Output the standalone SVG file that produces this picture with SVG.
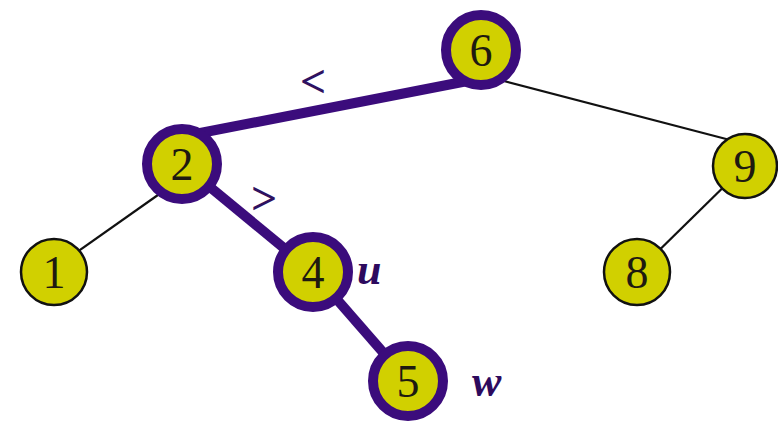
<svg xmlns="http://www.w3.org/2000/svg" width="778" height="427" viewBox="0 0 778 427">
  <style>
    .thin { stroke: #111; stroke-width: 2.2; fill: none; }
    .thick { stroke: #3b0c7c; stroke-width: 10; fill: none; stroke-linecap: butt; }
    .plain { fill: #d1d000; stroke: #111; stroke-width: 2.5; }
    .path { fill: #d1d000; stroke: #3b0c7c; stroke-width: 10; }
    .num { font-family: "Liberation Serif", "Times New Roman", serif; font-size: 46px; fill: #1e1a10; text-anchor: middle; }
    .cmp { font-family: "Liberation Serif", "Times New Roman", serif; font-size: 46px; font-weight: bold; fill: #2e1260; text-anchor: middle; }
    .var { font-family: "Liberation Serif", "Times New Roman", serif; font-size: 44px; font-weight: bold; font-style: italic; fill: #2d0a5e; }
  </style>
  <rect width="778" height="427" fill="#ffffff"/>

  <g id="edges">
    <line class="thick" x1="190" y1="135" x2="470" y2="80.5"/>
    <line class="thin" x1="500" y1="80" x2="730" y2="140"/>
    <line class="thin" x1="165" y1="190" x2="70" y2="257"/>
    <line class="thick" x1="182" y1="164" x2="313" y2="272"/>
    <line class="thick" x1="313" y1="272" x2="408" y2="381"/>
    <line class="thin" x1="745" y1="166" x2="637" y2="272"/>
  </g>

  <g id="edge-labels">
    <text class="cmp" x="313" y="97">&lt;</text>
    <text class="cmp" x="264" y="214">&gt;</text>
  </g>

  <g id="node-6">
    <circle class="path" cx="481" cy="50" r="35"/>
    <text class="num" x="481" y="66">6</text>
  </g>
  <g id="node-2">
    <circle class="path" cx="182" cy="164" r="35"/>
    <text class="num" x="182" y="180">2</text>
  </g>
  <g id="node-4">
    <circle class="path" cx="313" cy="272" r="35"/>
    <text class="num" x="313" y="288">4</text>
    <text class="var" x="357" y="284">u</text>
  </g>
  <g id="node-5">
    <circle class="path" cx="408" cy="381" r="35"/>
    <text class="num" x="408" y="397">5</text>
    <text class="var" x="472" y="396">w</text>
  </g>
  <g id="node-1">
    <circle class="plain" cx="54" cy="272" r="33"/>
    <text class="num" x="54" y="288">1</text>
  </g>
  <g id="node-9">
    <circle class="plain" cx="745" cy="166" r="32"/>
    <text class="num" x="745" y="182">9</text>
  </g>
  <g id="node-8">
    <circle class="plain" cx="637" cy="272" r="33"/>
    <text class="num" x="637" y="288">8</text>
  </g>
</svg>
